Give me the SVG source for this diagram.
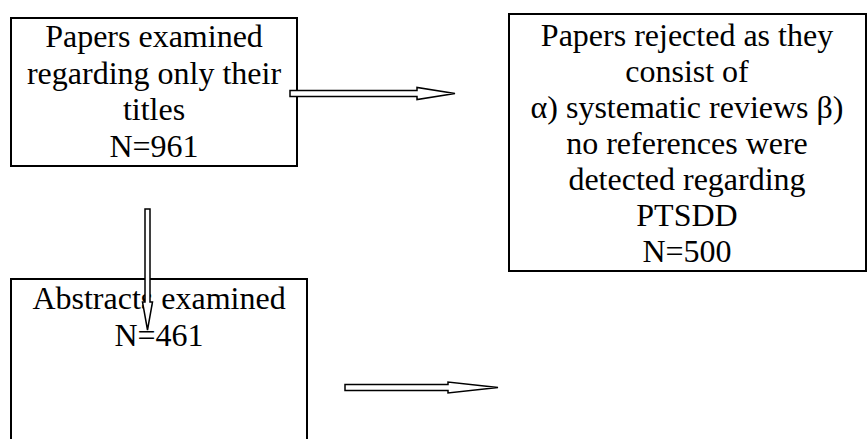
<svg xmlns="http://www.w3.org/2000/svg" width="867" height="439" viewBox="0 0 867 439">
<style>
.box{fill:#fff;stroke:#000;stroke-width:2}
.t{font-family:"Liberation Serif","Times New Roman",serif;font-size:32px;fill:#000;text-anchor:middle}
.arr{fill:#fff;stroke:#000;stroke-width:1.5;stroke-linejoin:miter}
</style>
<rect width="867" height="439" fill="#fff"/>
<g id="node-titles">
<rect class="box" x="11" y="18" width="286" height="148"/>
<text class="t" x="154" y="47">Papers examined</text>
<text class="t" x="154" y="83.5">regarding only their</text>
<text class="t" x="154" y="120">titles</text>
<text class="t" x="154" y="156.5">N=961</text>
</g>
<g id="node-rejected">
<rect class="box" x="509" y="14" width="357" height="257"/>
<text class="t" x="687" y="46">Papers rejected as they</text>
<text class="t" x="687" y="82">consist of</text>
<text class="t" x="687" y="118">α) systematic reviews β)</text>
<text class="t" x="687" y="154">no references were</text>
<text class="t" x="687" y="190">detected regarding</text>
<text class="t" x="687" y="226">PTSDD</text>
<text class="t" x="687" y="262">N=500</text>
</g>
<g id="node-abstracts">
<rect class="box" x="11" y="279" width="296" height="180"/>
<text class="t" x="159" y="309">Abstracts examined</text>
<text class="t" x="159" y="345.5">N=461</text>
</g>
<g id="connectors">
<polygon class="arr" points="290,90.5 417,90.5 417,87.5 455,93.5 417,99.5 417,96.5 290,96.5"/>
<polygon class="arr" points="145,209 150,209 150,302 152.5,302 147.5,330 142.5,302 145,302"/>
<polygon class="arr" points="345,384.5 448,384.5 448,382 498,387.5 448,393 448,390.5 345,390.5"/>
</g>
</svg>
